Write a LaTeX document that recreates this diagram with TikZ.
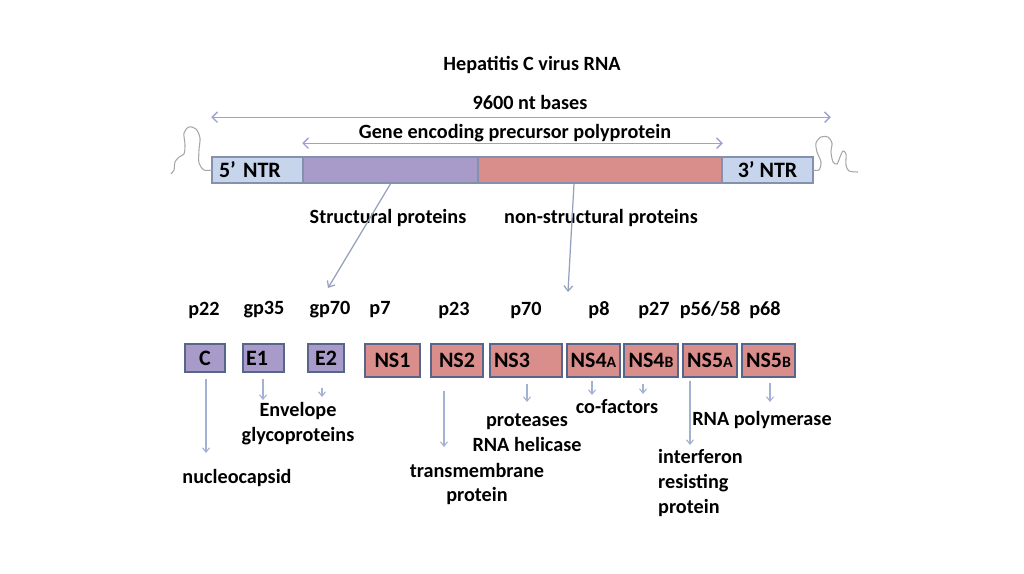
\documentclass[tikz,border=0pt]{standalone}
\usepackage{fontspec}
\setmainfont{Carlito}
\usepackage{xcolor}
\usetikzlibrary{arrows.meta,calc}
\definecolor{ntrblue}{HTML}{C6D5EC}
\definecolor{structpurple}{HTML}{A99BC9}
\definecolor{nspink}{HTML}{D98E8B}
\definecolor{boxedge}{HTML}{56658A}
\definecolor{baredge}{HTML}{8491AE}
\definecolor{spanline}{HTML}{9BA0D6}
\definecolor{tickline}{HTML}{A3B1D2}
\definecolor{loopgray}{HTML}{A6A6A6}
\newcommand{\lblfont}{\bfseries\fontsize{11.5}{14.2}\selectfont}
\newcommand{\boxfont}{\bfseries\fontsize{12.5}{15}\selectfont}
\newcommand{\lowA}[1]{{\fontsize{9}{10}\selectfont #1}}
\tikzset{
  % genome bar
  seg/.style={draw=baredge,line width=0.9pt,minimum height=5.2mm,inner sep=0pt,font=\boxfont},
  % protein boxes
  pbox/.style={draw=boxedge,line width=1.1pt,inner sep=0pt,font=\boxfont},
  sbox/.style={pbox,fill=structpurple,minimum height=5.6mm},
  nbox/.style={pbox,fill=nspink,minimum height=6.6mm},
  % connectors
  span/.style={spanline,line width=0.8pt,{Straight Barb[length=3pt,width=6pt]}-{Straight Barb[length=3pt,width=6pt]}},
  pointer/.style={tickline!90!black,line width=0.7pt,-{Straight Barb[length=3pt,width=5pt]}},
  tick/.style={tickline,line width=0.6pt,-{Straight Barb[length=2.5pt,width=4pt]}},
  loopline/.style={loopgray,line width=0.6pt},
}
\begin{document}
\begin{tikzpicture}[
  x=0.2mm,y=-0.2mm,
  every node/.style={font=\lblfont},
]
\useasboundingbox (0,0) rectangle (1024,574);

%% headings
\node (title) at (532,65) {Hepatitis C virus RNA};
\node (nt) at (530,102) {9600 nt bases};
\node (gene) at (515,133) {Gene encoding precursor polyprotein};

%% genome bar
\node[seg,fill=ntrblue,minimum width=18.2mm,text width=15.4mm,align=left] (ntr5) at (257.5,170) {5’ NTR};
\node[seg,fill=structpurple,minimum width=35mm] (spart) at (390.5,170) {};
\node[seg,fill=nspink,minimum width=48.8mm] (nspart) at (600,170) {};
\node[seg,fill=ntrblue,minimum width=18.2mm] (ntr3) at (767.5,170) {3’ NTR};

% length arrows
\draw[span] ([yshift=7.8mm]ntr5.north west) -- ([xshift=3.4mm,yshift=7.8mm]ntr3.north east);
\draw[span] ([yshift=2.6mm]spart.north west) -- ([yshift=2.6mm]nspart.north east);

% stem loops at both ends
\draw[loopline] plot[smooth] coordinates {(212,170) (204,170) (199,163) (199,150) (200,138) (196,129) (189,127) (184,133) (185,145) (184,154) (179,157) (175,162) (174,170) (171,174)};
\draw[loopline] plot[smooth] coordinates {(813,170) (819,170) (821,162) (817,152) (816,143) (821,137) (828,137) (832,143) (831,152) (833,162) (837,164) (840,157) (843,151) (846,154) (846,165) (849,171) (858,172)};

%% protein groups
\node (struct) at (388,218) {Structural proteins};
\node (nonstruct) at (601,218) {non-structural proteins};
\coordinate (stend) at (328,288);
\coordinate (nsend) at (568,292);
\draw[pointer] (spart.south) -- (stend);
\draw[pointer] ([xshift=-5.2mm]nspart.south) -- (nsend);

%% cleaved proteins
\foreach \name/\x/\w/\txt in {C/205/8/C, E1/263.5/8.2/{E1\hspace*{2.6mm}}, E2/326/7.2/E2}{
  \node[sbox,minimum width=\w mm] (\name) at (\x,358) {\txt};
}
\foreach \name/\x/\w/\txt in {NS1/392.5/11/NS1, NS2/457/10.4/NS2, NS3/526/14.4/{NS3\hspace*{5.6mm}},
    NS4A/593.5/10.6/{NS4\lowA{A}}, NS4B/651/10.8/{NS4\lowA{B}},
    NS5A/710/10.8/{NS5\lowA{A}}, NS5B/768.5/10.6/{NS5\lowA{B}}}{
  \node[nbox,minimum width=\w mm] (\name) at (\x,360.5) {\txt};
}

% molecular weights
\foreach \name/\x/\txt in {mC/204/p22, mE1/264/gp35, mE2/330/gp70, mNS1/380/p7, mNS2/454/p23,
    mNS3/526/p70, mNS4A/599/p8, mNS4B/654/p27, mNS5A/710/{p56/58}, mNS5B/765/p68}{
  \node (\name) at (\x,310) {\txt};
}

%% functions
\node (nuc) at (237,478) {nucleocapsid};
\node[align=center] (env) at (298,424) {Envelope\\glycoproteins};
\node[align=center] (tm) at (477,484) {transmembrane\\protein};
\node[align=center] (prot) at (527,433) {proteases\\RNA helicase};
\node (cof) at (617,407) {co-factors};
\node (pol) at (762,420) {RNA polymerase};
\node[align=left,anchor=west] (ifn) at (652,483) {interferon\\resisting\\protein};

% small arrows box -> function
\foreach \b/\x/\gap/\y in {C/206/1.2/453, E1/263/1.2/400, E2/322/3/397, NS2/444/2.6/447,
    NS3/527/1.2/402, NS4A/592/0.6/395, NS4B/643/1.2/394, NS5A/690/0.6/445, NS5B/770/1/402}{
  \coordinate (tip\b) at (\x,\y);
  \draw[tick,shorten <=\gap mm] (tip\b |- \b.south) -- (tip\b);
}
\end{tikzpicture}
\end{document}
